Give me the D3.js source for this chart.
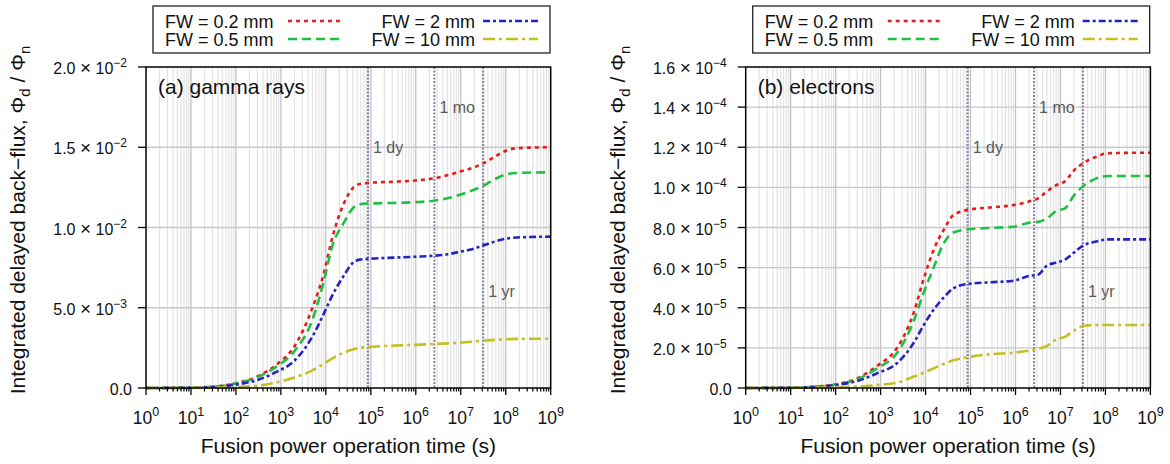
<!DOCTYPE html>
<html>
<head>
<meta charset="utf-8">
<script src="https://cdn.jsdelivr.net/npm/d3@7"></script>
<style>
  html, body { margin: 0; padding: 0; background: #fff; }
  svg { display: block; font-family: "Liberation Sans", Arial, Helvetica, sans-serif; }
</style>
</head>
<body>
<svg id="chart" width="1170" height="464"></svg>
<script>
// ---- data -------------------------------------------------------------
// operation time (s) sample points, gamma-ray panel
const timeGamma = [1, 10, 31.6, 100, 316, 794, 2000, 5010, 8910, 14100, 25100, 39800, 56200,
  1e5, 3.16e5, 1e6, 2.51e6, 5.01e6, 1e7, 1.78e7, 3.16e7, 5.62e7, 1e8, 1.78e8, 1e9];
const gammaFW02 = [0, 2e-5, 8e-5, 3.0e-4, 7.5e-4, 1.45e-3, 2.6e-3, 4.98e-3, 7.1e-3, 9.43e-3, 1.15e-2, 1.245e-2, 1.271e-2,
  1.279e-2, 1.285e-2, 1.293e-2, 1.306e-2, 1.325e-2, 1.35e-2, 1.37e-2, 1.40e-2, 1.44e-2, 1.478e-2, 1.494e-2, 1.50e-2];
const gammaFW05 = [0, 2e-5, 8e-5, 2.8e-4, 7.0e-4, 1.33e-3, 2.3e-3, 4.24e-3, 6.6e-3, 8.9e-3, 1.03e-2, 1.12e-2, 1.145e-2,
  1.15e-2, 1.153e-2, 1.158e-2, 1.167e-2, 1.182e-2, 1.205e-2, 1.23e-2, 1.26e-2, 1.30e-2, 1.33e-2, 1.34e-2, 1.344e-2];
const gammaFW2 = [0, 1.5e-5, 6e-5, 2.1e-4, 5.2e-4, 1.0e-3, 1.7e-3, 3.2e-3, 4.6e-3, 5.8e-3, 7.0e-3, 7.8e-3, 8.0e-3,
  8.06e-3, 8.12e-3, 8.18e-3, 8.24e-3, 8.33e-3, 8.5e-3, 8.65e-3, 8.88e-3, 9.12e-3, 9.3e-3, 9.38e-3, 9.43e-3];
const gammaFW10 = [0, 5e-6, 2e-5, 6e-5, 1.5e-4, 3.5e-4, 6.5e-4, 1.1e-3, 1.5e-3, 1.85e-3, 2.2e-3, 2.4e-3, 2.5e-3,
  2.56e-3, 2.64e-3, 2.69e-3, 2.74e-3, 2.78e-3, 2.83e-3, 2.88e-3, 2.95e-3, 3.0e-3, 3.04e-3, 3.06e-3, 3.07e-3];

// operation time (s) sample points, electron panel
const timeElectron = [1, 10, 31.6, 100, 316, 832, 2290, 5370, 8910, 15100, 25100, 41700, 83200,
  2.75e5, 9.12e5, 2.0e6, 3.16e6, 5.01e6, 7.94e6, 1.26e7, 2.0e7, 3.16e7, 6.31e7, 1.12e8, 1e9];
const electronFW02 = [0, 2e-7, 6e-7, 1.8e-6, 5e-6, 1.1e-5, 1.98e-5, 3.72e-5, 5.38e-5, 6.88e-5, 7.87e-5, 8.62e-5, 8.87e-5,
  9.0e-5, 9.12e-5, 9.3e-5, 9.45e-5, 9.8e-5, 1.01e-4, 1.03e-4, 1.085e-4, 1.12e-4, 1.153e-4, 1.17e-4, 1.173e-4];
const electronFW05 = [0, 2e-7, 6e-7, 1.7e-6, 4.5e-6, 9.8e-6, 1.73e-5, 3.3e-5, 4.7e-5, 6.0e-5, 7.2e-5, 7.75e-5, 7.9e-5,
  7.98e-5, 8.04e-5, 8.24e-5, 8.28e-5, 8.45e-5, 8.82e-5, 8.95e-5, 9.6e-5, 1.005e-4, 1.045e-4, 1.057e-4, 1.057e-4];
const electronFW2 = [0, 1.5e-7, 5e-7, 1.4e-6, 3.6e-6, 7.3e-6, 1.23e-5, 2.23e-5, 3.1e-5, 3.9e-5, 4.5e-5, 4.97e-5, 5.18e-5,
  5.27e-5, 5.35e-5, 5.58e-5, 5.65e-5, 6.1e-5, 6.25e-5, 6.4e-5, 6.75e-5, 7.1e-5, 7.3e-5, 7.41e-5, 7.41e-5];
const electronFW10 = [0, 5e-8, 1.5e-7, 4e-7, 7e-7, 1.5e-6, 2.6e-6, 5.6e-6, 7.5e-6, 9.8e-6, 1.2e-5, 1.38e-5, 1.53e-5,
  1.68e-5, 1.76e-5, 1.86e-5, 1.95e-5, 2.1e-5, 2.42e-5, 2.55e-5, 2.86e-5, 3.09e-5, 3.14e-5, 3.14e-5, 3.14e-5];

const seriesNames = ["FW = 0.2 mm", "FW = 0.5 mm", "FW = 2 mm", "FW = 10 mm"];
const gammaTicks = [0, 5e-3, 1e-2, 1.5e-2, 2e-2];
const electronTicks = [0, 2e-5, 4e-5, 6e-5, 8e-5, 1e-4, 1.2e-4, 1.4e-4, 1.6e-4];
const timeDecades = [0, 1, 2, 3, 4, 5, 6, 7, 8, 9];
const markerTimes = [86400, 2592000, 31536000];
const markerNames = ["1 dy", "1 mo", "1 yr"];

// ---- styles -----------------------------------------------------------
const seriesStyle = [
  { color: "#ea1a1a", dash: "4,4" },
  { color: "#1fbf45", dash: "9,5" },
  { color: "#2424c4", dash: "7,3,3,3" },
  { color: "#c6bf22", dash: "12,4,3,4" }
];
// label heights as a fraction of the plot height from the top
const markerLabelFrac = [0.268, 0.143, 0.717];

const svg = d3.select("#chart");

function drawPanel(cfg) {
  const left = cfg.left, right = cfg.left + 404.7, top = 67, bottom = 388;
  const x = d3.scaleLog().domain([1, 1e9]).range([left, right]);
  const y = d3.scaleLinear().domain([0, cfg.yMax]).range([bottom, top]);
  const g = svg.append("g");

  // vertical grid: minor then major
  const minor = [];
  timeDecades.slice(0, -1).forEach(d => { for (let m = 2; m <= 9; m++) minor.push(m * Math.pow(10, d)); });
  g.selectAll(".vminor").data(minor).join("line")
    .attr("x1", d => x(d)).attr("x2", d => x(d)).attr("y1", top).attr("y2", bottom)
    .attr("stroke", "#e3e3e3").attr("stroke-width", 1.2);
  const majors = timeDecades.map(d => Math.pow(10, d));
  g.selectAll(".vmajor").data(majors.slice(1, -1)).join("line")
    .attr("x1", d => x(d)).attr("x2", d => x(d)).attr("y1", top).attr("y2", bottom)
    .attr("stroke", "#c3c3c3").attr("stroke-width", 1.3);
  // horizontal grid
  g.selectAll(".hgrid").data(cfg.ticks.slice(1, -1)).join("line")
    .attr("x1", left).attr("x2", right).attr("y1", d => y(d)).attr("y2", d => y(d))
    .attr("stroke", "#c8c8c8").attr("stroke-width", 1.3);

  // time markers
  g.selectAll(".marker").data(markerTimes).join("line")
    .attr("x1", d => x(d)).attr("x2", d => x(d)).attr("y1", top).attr("y2", bottom)
    .attr("stroke", "#8a7fa6").attr("stroke-width", 2).attr("stroke-dasharray", "2,1.5");
  g.selectAll(".markerLabel").data(markerTimes).join("text")
    .attr("x", d => x(d) + 5)
    .attr("y", (d, i) => top + markerLabelFrac[i] * (bottom - top))
    .attr("font-size", 16).attr("fill", "#5a5a5a")
    .text((d, i) => markerNames[i]);

  // curves
  const clipId = "clip" + cfg.key;
  svg.append("clipPath").attr("id", clipId).append("rect")
    .attr("x", left).attr("y", top - 2).attr("width", right - left).attr("height", bottom - top + 4);
  const line = d3.line().x(d => x(d[0])).y(d => y(d[1])).curve(d3.curveMonotoneX);
  cfg.series.forEach((vals, i) => {
    g.append("path")
      .datum(cfg.time.map((t, k) => [t, vals[k]]))
      .attr("clip-path", `url(#${clipId})`)
      .attr("d", line).attr("fill", "none")
      .attr("stroke", seriesStyle[i].color).attr("stroke-width", 2.6)
      .attr("stroke-dasharray", seriesStyle[i].dash);
  });

  // frame
  g.append("rect").attr("x", left).attr("y", top).attr("width", right - left).attr("height", bottom - top)
    .attr("fill", "none").attr("stroke", "#000").attr("stroke-width", 1.5);

  // x ticks
  g.selectAll(".xminorTick").data(minor).join("line")
    .attr("x1", d => x(d)).attr("x2", d => x(d)).attr("y1", bottom).attr("y2", bottom + 3.5)
    .attr("stroke", "#000").attr("stroke-width", 1.2);
  g.selectAll(".xmajorTick").data(majors).join("line")
    .attr("x1", d => x(d)).attr("x2", d => x(d)).attr("y1", bottom).attr("y2", bottom + 7)
    .attr("stroke", "#000").attr("stroke-width", 1.3);
  const xl = g.selectAll(".xlab").data(timeDecades).join("text")
    .attr("x", d => x(Math.pow(10, d))).attr("y", 424)
    .attr("text-anchor", "middle").attr("font-size", 17.5).attr("fill", "#111");
  xl.append("tspan").text("10");
  xl.append("tspan").attr("dy", -8).attr("font-size", 12.5).text(d => d);

  // y ticks
  g.selectAll(".ytick").data(cfg.ticks).join("line")
    .attr("x1", left - 8).attr("x2", left).attr("y1", d => y(d)).attr("y2", d => y(d))
    .attr("stroke", "#000").attr("stroke-width", 1.3);
  const yl = g.selectAll(".ylab").data(cfg.ticks).join("text")
    .attr("x", left - 19).attr("y", d => y(d) + 7)
    .attr("text-anchor", "end").attr("font-size", 16).attr("fill", "#111");
  yl.each(function (v) {
    const t = d3.select(this);
    if (v === 0) { t.text("0.0"); t.attr("x", left - 14); return; }
    const e = Math.floor(Math.log10(v) + 1e-9);
    const m = v / Math.pow(10, e);
    t.append("tspan").text(m.toFixed(1) + " ");
    t.append("tspan").attr("font-size", 19).text("\u00d7");
    t.append("tspan").text(" 10");
    t.append("tspan").attr("dy", -7).attr("font-size", 12).text("\u2212" + Math.abs(e));
  });

  // axis titles
  svg.append("text").attr("x", (left + right) / 2).attr("y", 453)
    .attr("text-anchor", "middle").attr("font-size", 21).attr("fill", "#111")
    .text("Fusion power operation time (s)");
  const yt = svg.append("text")
    .attr("transform", `translate(${cfg.titleX},220) rotate(-90)`)
    .attr("text-anchor", "middle").attr("font-size", 21).attr("fill", "#111");
  yt.append("tspan").text("Integrated delayed back\u2212flux, \u03a6");
  yt.append("tspan").attr("dy", 5).attr("font-size", 15).text("d");
  yt.append("tspan").attr("dy", -5).text(" / \u03a6");
  yt.append("tspan").attr("dy", 5).attr("font-size", 15).text("n");

  // panel label
  svg.append("text").attr("x", left + 12).attr("y", 94)
    .attr("font-size", 21).attr("fill", "#111").text(cfg.label);

  // legend
  const lx = left + 7, ly = 6;
  const lg = svg.append("g");
  lg.append("rect").attr("x", lx).attr("y", ly).attr("width", 397).attr("height", 47)
    .attr("fill", "#fff").attr("stroke", "#222").attr("stroke-width", 1.3);
  const slots = [
    { tx: lx + 12, anchor: "start", sx: lx + 135, row: 0 },
    { tx: lx + 12, anchor: "start", sx: lx + 135, row: 1 },
    { tx: lx + 322, anchor: "end", sx: lx + 330, row: 0 },
    { tx: lx + 322, anchor: "end", sx: lx + 330, row: 1 }
  ];
  seriesNames.forEach((name, i) => {
    const s = slots[i];
    const base = ly + 21.5 + s.row * 18;
    lg.append("text").attr("x", s.tx).attr("y", base).attr("text-anchor", s.anchor)
      .attr("font-size", 18).attr("fill", "#111").text(name);
    lg.append("line").attr("x1", s.sx).attr("x2", s.sx + 55)
      .attr("y1", base - 6.5).attr("y2", base - 6.5)
      .attr("stroke", seriesStyle[i].color).attr("stroke-width", 2.6)
      .attr("stroke-dasharray", seriesStyle[i].dash);
  });
}

drawPanel({ key: "a", left: 146, yMax: 0.02, ticks: gammaTicks, time: timeGamma,
  series: [gammaFW02, gammaFW05, gammaFW2, gammaFW10], label: "(a) gamma rays", titleX: 25 });
drawPanel({ key: "b", left: 745.7, yMax: 1.6e-4, ticks: electronTicks, time: timeElectron,
  series: [electronFW02, electronFW05, electronFW2, electronFW10], label: "(b) electrons", titleX: 625 });
</script>
</body>
</html>
